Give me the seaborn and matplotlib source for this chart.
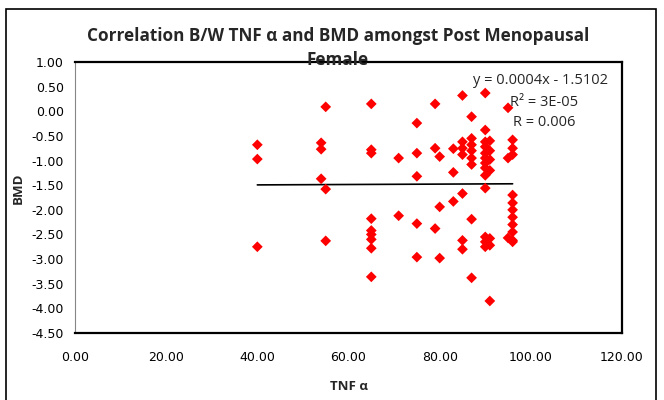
"""Scatter of TNF alpha vs BMD with a linear trendline (post menopausal females)."""

import matplotlib

matplotlib.use("Agg")
import matplotlib.pyplot as plt
import numpy as np
import pandas as pd
import seaborn as sns
from matplotlib.patches import Rectangle
from matplotlib.ticker import FormatStrFormatter

# Values (one entry per patient).
tnf_alpha = (
    [40] * 3
    + [54] * 3
    + [55] * 3
    + [65] * 9
    + [71] * 2
    + [75] * 5
    + [79] * 3
    + [80] * 3
    + [83] * 3
    + [85] * 7
    + [87] * 8
    + [90] * 13
    + [91] * 7
    + [95] * 3
    + [96] * 11
)
bmd = [
    -0.68, -0.97, -2.75,
    -0.64, -0.77, -1.37,
    0.09, -1.58, -2.63,
    0.15, -0.78, -0.85, -2.18, -2.42, -2.50, -2.60, -2.78, -3.36,
    -0.95, -2.12,
    -0.24, -0.85, -1.32, -2.28, -2.96,
    0.15, -0.75, -2.38,
    -0.92, -1.94, -2.98,
    -0.76, -1.24, -1.83,
    0.32, -0.62, -0.75, -0.88, -1.67, -2.62, -2.80,
    -0.11, -0.55, -0.68, -0.80, -0.95, -1.08, -2.19, -3.38,
    0.37, -0.38, -0.62, -0.72, -0.85, -0.95, -1.05, -1.15, -1.30, -1.56, -2.55, -2.65, -2.75,
    -0.60, -0.80, -0.98, -1.20, -2.58, -2.72, -3.85,
    0.07, -0.95, -2.57,
    -0.58, -0.75, -0.88, -1.70, -1.86, -2.00, -2.15, -2.30, -2.45, -2.62, -2.65,
]

# Trendline reported on the chart.
SLOPE = 0.0004
INTERCEPT = -1.5102
fit_labels = ["y = 0.0004x - 1.5102", "R² = 3E-05", "R = 0.006"]

x_ticks = np.arange(0, 121, 20)
y_ticks = np.arange(-4.5, 1.01, 0.5)

W, H = 664, 400
BOLD_FONT = ["Open Sans", "DejaVu Sans"]


def fx(px):
    return px / W


def fy(py):
    return 1 - py / H


df = pd.DataFrame({"TNF α": tnf_alpha, "BMD": bmd})
trend = pd.DataFrame({"TNF α": [df["TNF α"].min(), df["TNF α"].max()]})
trend["BMD"] = SLOPE * trend["TNF α"] + INTERCEPT

sns.set_theme(style="white")
plt.rcParams["font.family"] = ["DejaVu Sans"]

fig = plt.figure(figsize=(W / 100, H / 100), dpi=100)
ax = fig.add_axes([fx(75), fy(333), fx(622) - fx(75), fy(62) - fy(333)])

sns.scatterplot(
    data=df, x="TNF α", y="BMD", marker="D", color="#ff0000",
    s=30, edgecolor="none", ax=ax, zorder=3,
)
sns.lineplot(data=trend, x="TNF α", y="BMD", color="black", linewidth=1.2, ax=ax, zorder=2)

ax.set_xlim(x_ticks[0], x_ticks[-1])
ax.set_ylim(y_ticks[0], y_ticks[-1])
ax.set_xticks(x_ticks)
ax.set_yticks(y_ticks)
ax.xaxis.set_major_formatter(FormatStrFormatter("%.2f"))
ax.yaxis.set_major_formatter(FormatStrFormatter("%.2f"))
ax.tick_params(axis="x", length=0, pad=13, labelsize=9, colors="black")
ax.tick_params(axis="y", direction="out", length=5, width=0.8, color="#868686",
               pad=3, labelsize=9, labelcolor="black")
ax.set_xlabel("")
ax.set_ylabel("")
ax.grid(False)

for side in ["top", "right", "bottom"]:
    ax.spines[side].set_color("black")
    ax.spines[side].set_linewidth(1.6)
ax.spines["left"].set_color("#868686")
ax.spines["left"].set_linewidth(0.8)

fig.text(fx(338), fy(36), "Correlation B/W TNF α and BMD amongst Post Menopausal",
         ha="center", va="center", fontsize=12.3, fontweight="bold", family=BOLD_FONT)
fig.text(fx(338), fy(60), "Female", ha="center", va="center", fontsize=12.3,
         fontweight="bold", family=BOLD_FONT)

fig.text(fx(349), fy(386), "TNF α", ha="center", va="center", fontsize=9.5,
         fontweight="bold", family=BOLD_FONT)
fig.text(fx(18), fy(188), "BMD", ha="center", va="center", rotation=90, fontsize=9.5,
         fontweight="bold", family=BOLD_FONT)

for (px, py), label in zip([(473, 80), (510, 102), (513, 123)], fit_labels):
    fig.text(fx(px), fy(py), label, ha="left", va="center", fontsize=10.5,
             family=BOLD_FONT)

# Chart-area border (bottom edge falls outside the picture).
fig.patches.append(
    Rectangle((fx(6), fy(420)), fx(656) - fx(6), fy(9) - fy(420),
              transform=fig.transFigure, fill=False, edgecolor="black", linewidth=1.2)
)

fig.savefig("out.png", dpi=100, facecolor="white")
